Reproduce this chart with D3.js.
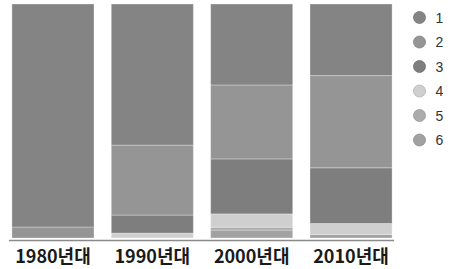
<!DOCTYPE html>
<html>
<head>
<meta charset="utf-8">
<script src="https://cdn.jsdelivr.net/npm/d3@7"></script>
<style>
  body { margin: 0; background: #fff; }
  svg { display: block; }
</style>
</head>
<body>
<svg id="drawing_region"></svg>
<script>
// 연대별 구성비 (%)
const decades = ['1980년대', '1990년대', '2000년대', '2010년대'];
const seriesNames = ['1', '2', '3', '4', '5', '6'];
const s1 = [95.3, 60.3, 34.6, 30.6];
const s2 = [4.7, 29.9, 31.6, 39.4];
const s3 = [0, 7.7, 23.5, 23.8];
const s4 = [0, 2.1, 5.7, 4.7];
const s5 = [0, 0, 1.2, 0];
const s6 = [0, 0, 3.4, 1.5];
const colors = ['#848484', '#959595', '#7e7e7e', '#cfcfcf', '#acacac', '#a2a2a2'];

const config = {
    parent: '#drawing_region',
    width: 450,
    height: 269
};

const table = decades.map((d, i) => ({
    decade: d, '1': s1[i], '2': s2[i], '3': s3[i], '4': s4[i], '5': s5[i], '6': s6[i]
}));

const svg = d3.select(config.parent)
    .attr('width', config.width)
    .attr('height', config.height);

const x = d3.scaleBand()
    .domain(decades)
    .range([0, 404])
    .paddingInner(0.174)
    .paddingOuter(0.12);

const y = d3.scaleLinear()
    .domain([0, 100])
    .range([238, 4]);

// 1이 맨 위로 오도록 역순으로 쌓기
const stack = d3.stack()
    .keys(seriesNames.slice().reverse());
const layers = stack(table);

const color = d3.scaleOrdinal()
    .domain(seriesNames)
    .range(colors);

svg.append('g')
    .selectAll('g')
    .data(layers)
    .join('g')
    .attr('fill', d => color(d.key))
    .selectAll('rect')
    .data(d => d.filter(p => p[1] - p[0] > 0))
    .join('rect')
    .attr('x', d => x(d.data.decade))
    .attr('y', d => y(d[1]))
    .attr('width', x.bandwidth())
    .attr('height', d => y(d[0]) - y(d[1]))
    .attr('stroke', 'rgba(255,255,255,0.3)')
    .attr('stroke-width', 1);

// 아래 축선
svg.append('line')
    .attr('x1', x(decades[0]) - 3)
    .attr('x2', x(decades[decades.length - 1]) + x.bandwidth() + 2)
    .attr('y1', 240.5)
    .attr('y2', 240.5)
    .attr('stroke', '#8a8a8a')
    .attr('stroke-width', 1.5);

svg.append('g')
    .selectAll('text')
    .data(decades)
    .join('text')
    .attr('x', d => x(d) + x.bandwidth() / 2)
    .attr('y', 262.5)
    .attr('text-anchor', 'middle')
    .style('font-family', '"Noto Sans CJK KR", "Noto Sans", sans-serif')
    .style('font-weight', 'bold')
    .style('font-size', '18px')
    .style('fill', '#1a1a1a')
    .text(d => d);

// 범례
const legend = svg.append('g')
    .selectAll('g')
    .data(seriesNames)
    .join('g')
    .attr('transform', (d, i) => `translate(419.5, ${17.5 + i * 24.5})`);

legend.append('circle')
    .attr('r', 6)
    .attr('fill', d => color(d))
    .attr('stroke', d => d3.color(color(d)).darker(0.4))
    .attr('stroke-width', 0.8);

legend.append('text')
    .attr('x', 16)
    .attr('y', 5)
    .style('font-family', '"Liberation Sans", Arial, sans-serif')
    .style('font-size', '14px')
    .style('fill', '#333')
    .text(d => d);
</script>
</body>
</html>
